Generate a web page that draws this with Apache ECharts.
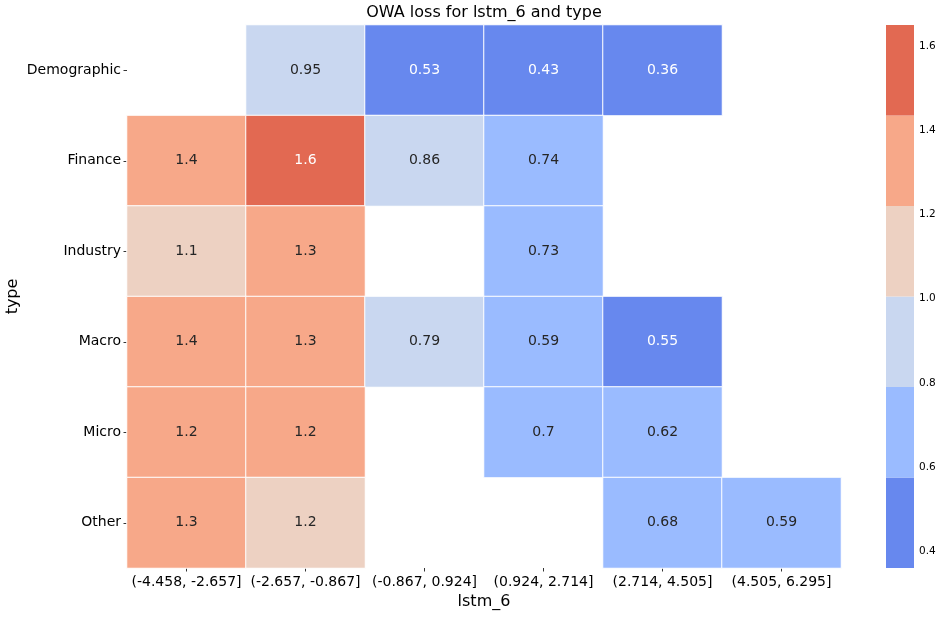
<!DOCTYPE html>
<html>
<head>
<meta charset="utf-8">
<script src="https://cdn.jsdelivr.net/npm/echarts@6/dist/echarts.min.js"></script>
<style>html,body{margin:0;padding:0;background:#fff}#c{width:943px;height:617px}</style>
</head>
<body>
<div id="c"></div>
<script>
const xCategories = ['(-4.458, -2.657]', '(-2.657, -0.867]', '(-0.867, 0.924]', '(0.924, 2.714]', '(2.714, 4.505]', '(4.505, 6.295]'];
const yCategories = ['Demographic', 'Finance', 'Industry', 'Macro', 'Micro', 'Other'];
const rowDemographic = [null, 0.95, 0.53, 0.43, 0.36, null];
const rowFinance     = [1.4, 1.6, 0.86, 0.74, null, null];
const rowIndustry    = [1.1, 1.3, null, 0.73, null, null];
const rowMacro       = [1.4, 1.3, 0.79, 0.59, 0.55, null];
const rowMicro       = [1.23, 1.23, null, 0.7, 0.62, null];
const rowOther       = [1.3, 1.19, null, null, 0.68, 0.59];
const rows = [rowDemographic, rowFinance, rowIndustry, rowMacro, rowMicro, rowOther];
const binEdges = [0.36, 0.575, 0.79, 1.005, 1.22, 1.435, 1.65];
const palette = ['#6788ee', '#9abbff', '#c9d7f0', '#edd1c2', '#f7a889', '#e26952'];
const darkBins = [0, 5];
const colorbarTicks = [0.4, 0.6, 0.8, 1.0, 1.2, 1.4, 1.6];

const FONT = 'DejaVu Sans';
function binOf(v){ for (let i = 0; i < palette.length; i++){ if (v < binEdges[i+1]) return i; } return palette.length - 1; }
function fmt(v){ return String(Number(v.toPrecision(2))); }

const data = [];
rows.forEach((row, yi) => row.forEach((v, xi) => {
  if (v === null) return;
  const b = binOf(v);
  data.push({ value: [xi, yi, v], label: { color: darkBins.includes(b) ? '#ffffff' : '#262626' } });
}));

const pieces = palette.map((c, i) => (i === palette.length - 1)
  ? { gte: binEdges[i], color: c }
  : { gte: binEdges[i], lt: binEdges[i+1], color: c });

const barData = palette.map((c, i) => [binEdges[i], binEdges[i+1], i]);

const chart = echarts.init(document.getElementById('c'));
chart.setOption({
  animation: false,
  backgroundColor: '#fff',
  textStyle: { fontFamily: FONT },
  graphic: [{
    type: 'text', x: 484, y: 13,
    style: { text: 'OWA loss for lstm_6 and type', font: '16px "DejaVu Sans"', fill: '#000', textAlign: 'center', textVerticalAlign: 'middle' }
  }],
  grid: [
    { left: 127, right: 102, top: 25, bottom: 49, containLabel: false, outerBoundsMode: 'none' },
    { left: 886, width: 28, top: 25, bottom: 49, containLabel: false, outerBoundsMode: 'none' }
  ],
  xAxis: [
    { type: 'category', gridIndex: 0, data: xCategories,
      name: 'lstm_6', nameLocation: 'middle', nameGap: 26, nameMoveOverlap: false,
      nameTextStyle: { fontSize: 16, color: '#000', fontFamily: FONT },
      axisLine: { show: false }, splitLine: { show: false },
      axisTick: { show: true, alignWithLabel: true, length: 3.5, lineStyle: { color: '#000', width: 0.8 } },
      axisLabel: { fontSize: 14, color: '#000', fontFamily: FONT, margin: 7, interval: 0 } },
    { type: 'value', gridIndex: 1, min: 0, max: 1, show: false }
  ],
  yAxis: [
    { type: 'category', gridIndex: 0, data: yCategories, inverse: true,
      name: 'type', nameLocation: 'middle', nameGap: 106, nameRotate: 90, nameMoveOverlap: false,
      nameTextStyle: { fontSize: 16, color: '#000', fontFamily: FONT },
      axisLine: { show: false }, splitLine: { show: false },
      axisTick: { show: true, alignWithLabel: true, length: 3.5, lineStyle: { color: '#000', width: 0.8 } },
      axisLabel: { fontSize: 14, color: '#000', fontFamily: FONT, margin: 6, interval: 0 } },
    { type: 'value', gridIndex: 1, position: 'right', min: binEdges[0], max: binEdges[binEdges.length-1],
      axisLine: { show: false }, splitLine: { show: false },
      axisTick: { show: true, length: 3.5, customValues: colorbarTicks, lineStyle: { color: '#000', width: 0.8 } },
      axisLabel: { fontSize: 10.5, color: '#000', fontFamily: FONT, margin: 5, customValues: colorbarTicks, formatter: v => v.toFixed(1) } }
  ],
  visualMap: {
    type: 'piecewise', show: false, seriesIndex: 0, dimension: 2, pieces: pieces
  },
  series: [
    { type: 'heatmap', xAxisIndex: 0, yAxisIndex: 0, data: data,
      itemStyle: { borderColor: '#ffffff', borderWidth: 1 },
      label: { show: true, fontSize: 14, fontFamily: FONT, formatter: p => fmt(p.value[2]) },
      emphasis: { disabled: true } },
    { type: 'custom', xAxisIndex: 1, yAxisIndex: 1, data: barData, silent: true,
      renderItem: function (params, api) {
        const p1 = api.coord([0, api.value(1)]);
        const p2 = api.coord([1, api.value(0)]);
        return { type: 'rect', shape: { x: p1[0], y: p1[1], width: p2[0] - p1[0], height: p2[1] - p1[1] },
                 style: { fill: palette[api.value(2)] } };
      } }
  ]
});
</script>
</body>
</html>
